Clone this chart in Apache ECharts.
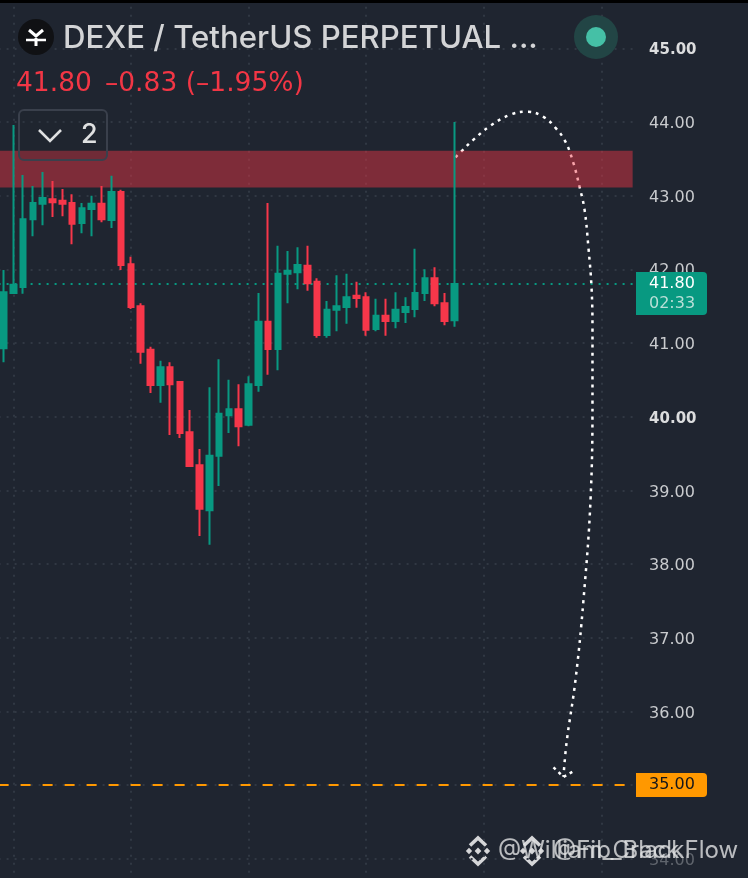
<!DOCTYPE html>
<html><head><meta charset="utf-8">
<style>html,body{margin:0;padding:0;background:#1f2530}#c{width:748px;height:878px}</style>
<script src="https://cdn.jsdelivr.net/npm/echarts@6/dist/echarts.min.js"></script>
</head><body><div id="c"></div>
<script>
// open, close, low, high for each bar
const opens  = [40.93,41.68,41.76,42.68,42.89,42.95,42.93,42.90,42.63,42.82,42.89,42.67,43.05,42.07,41.50,40.91,40.43,40.67,40.47,39.79,39.34,38.73,39.47,40.02,40.10,39.89,40.43,41.29,40.92,41.94,41.96,42.05,41.83,41.11,41.45,41.49,41.64,41.62,41.19,41.37,41.30,41.42,41.46,41.68,41.88,41.54,41.31];
const closes = [41.69,41.79,42.68,42.90,42.97,42.91,42.89,42.62,42.83,42.89,42.68,43.05,42.06,41.49,40.88,40.43,40.67,40.44,39.78,39.33,38.75,39.47,40.04,40.10,39.87,40.44,41.29,40.92,41.94,41.98,42.06,41.81,41.11,41.45,41.50,41.62,41.61,41.18,41.37,41.30,41.45,41.49,41.68,41.88,41.54,41.30,41.80];
const lows   = [40.74,41.67,41.67,42.45,42.60,42.71,42.72,42.34,42.49,42.45,42.64,42.56,41.99,41.46,40.72,40.32,40.19,39.75,39.71,39.33,38.38,38.26,39.06,39.78,39.60,39.87,40.34,40.57,40.63,41.54,41.73,41.71,41.07,41.07,41.16,41.26,41.48,41.10,41.16,41.10,41.20,41.27,41.35,41.57,41.50,41.24,41.22];
const highs  = [41.99,43.96,43.28,43.13,43.32,43.20,43.09,43.02,42.90,43.00,43.13,43.27,43.08,42.17,41.54,40.95,40.76,40.74,40.47,40.09,39.56,40.40,40.78,40.50,40.44,40.55,41.68,42.90,42.32,42.25,42.30,42.32,41.88,41.57,41.92,41.94,41.83,41.69,41.60,41.60,41.69,41.62,42.28,42.00,42.03,41.68,44.00];
const totalBars = 65;
const lastPrice = 41.80;
const targetPrice = 35.00;
const zoneBars = [-1, 64.2];
const zonePrices = [43.61, 43.11];
const arcBars   = [46.12,46.63,47.96,49.69,51.73,53.47,55.10,56.33,57.35,58.16,58.78,59.29,59.69,60.00,60.10,60.10,59.90,59.18,58.37,57.45,57.14];
const arcPrices = [43.52,43.59,43.76,43.95,44.10,44.14,44.07,43.92,43.73,43.44,43.12,42.81,42.29,41.76,41.20,40.23,38.87,37.51,36.43,35.57,35.11];
const headBars   = [56.12,57.14,58.06];
const headPrices = [35.24,35.11,35.18];
const boldTicks = ['45.00','40.00'];
const fadedTicks = ['34.00'];
const titleText = 'DEXE / TetherUS PERPETUAL ...';
const priceText = '41.80';
const changeText = '\u20130.83 (\u20131.95%)';
const countdownText = '02:33';
const foldCount = '2';
const watermarks = ['@William_Crack', '@Fib_BlackFlow'];

const BG='#1f2530', GRID='#313843', UP='#089981', DOWN='#f7374a', AXIS='#c9cbce', ORANGE='#ff9800';
const FONT='Inter, "Noto Sans", sans-serif';
const AXFONT='"DejaVu Sans", sans-serif';
const cats = Array.from({length:totalBars},(_,i)=>String(i));
const chart = echarts.init(document.getElementById('c'),null,{renderer:'canvas'});

function tag(params, api, fill, lines){
  const y = api.coord([0, api.value(0)])[1];
  const g = {type:'group',children:[]};
  const h = lines.length>1 ? 43 : 24;
  const top = y-12;
  g.children.push({type:'rect',shape:{x:636,y:top,width:71,height:h,r:[0,4,4,0]},style:{fill}});
  lines.forEach((l,i)=>g.children.push({type:'text',style:{x:649,y:top+12+i*20,text:l.t,fill:l.c,font:'16px '+AXFONT,textVerticalAlign:'middle',textAlign:'left'}}));
  return g;
}
function diamond(cx,cy){
  const d=(x,y,r)=>({type:'polygon',shape:{points:[[x,y-r],[x+r,y],[x,y+r],[x-r,y]]},style:{fill:'#d5d6d8'}});
  return [d(cx,cy,3.4),d(cx-9,cy,3.2),d(cx+9,cy,3.2),
    {type:'polyline',shape:{points:[[cx-8,cy-5.5],[cx,cy-13],[cx+8,cy-5.5]]},style:{stroke:'#d5d6d8',fill:null,lineWidth:3.6}},
    {type:'polyline',shape:{points:[[cx-8,cy+5.5],[cx,cy+13],[cx+8,cy+5.5]]},style:{stroke:'#d5d6d8',fill:null,lineWidth:3.6}}];
}

chart.setOption({
  backgroundColor:BG, animation:false,
  grid:{left:-1.4,top:-25.34,width:637,height:957.71,containLabel:false,outerBoundsMode:'none'},
  xAxis:[
    {type:'category',data:cats,boundaryGap:true,axisLine:{show:false},axisTick:{show:false},axisLabel:{show:false},
     splitLine:{show:true,alignWithLabel:true,interval:(i)=>(i-1)%12===0,lineStyle:{color:GRID,width:2,type:[2,6]}}},
    {type:'value',min:-0.5,max:64.5,show:false,splitLine:{show:false}}
  ],
  yAxis:{type:'value',min:33,max:46,interval:1,position:'right',axisLine:{show:false},axisTick:{show:false},
    splitLine:{show:true,lineStyle:{color:GRID,width:2,type:[2,6]}},
    axisLabel:{margin:13.5,align:'left',padding:[4,0,0,0],formatter:(v)=>{const t=v.toFixed(2);return boldTicks.includes(t)?`{b|${t}}`:fadedTicks.includes(t)?`{f|${t}}`:`{n|${t}}`;},
      rich:{n:{color:AXIS,fontSize:16,fontFamily:AXFONT},b:{color:'#dcddde',fontSize:15,fontWeight:'bold',fontFamily:AXFONT},f:{color:'#5f646c',fontSize:16,fontFamily:AXFONT}}}},
  series:[
    {type:'line',name:'arc',xAxisIndex:1,z:1,symbol:'none',smooth:0.4,data:arcBars.map((b,i)=>[b,arcPrices[i]]),lineStyle:{color:'#fff',width:2.5,type:[3,5]},clip:false},
    {type:'line',name:'head',xAxisIndex:1,z:1,symbol:'none',data:headBars.map((b,i)=>[b,headPrices[i]]),lineStyle:{color:'#fff',width:2.5,type:[3,4]},clip:false},
    {type:'custom',name:'zone',xAxisIndex:1,z:1.5,data:[[zoneBars[0],zoneBars[1],zonePrices[0],zonePrices[1]]],
     encode:{x:[0,1],y:[2,3]},
     renderItem:(p,api)=>{const a=api.coord([api.value(0),api.value(2)]),b=api.coord([api.value(1),api.value(3)]);
       return {type:'rect',shape:{x:a[0],y:a[1],width:b[0]-a[0],height:b[1]-a[1]},style:{fill:'rgba(242,54,69,0.45)'}};}},
    {type:'candlestick',name:'price',z:2,barWidth:6,data:opens.map((o,i)=>[o,closes[i],lows[i],highs[i]]),
     itemStyle:{color:UP,color0:DOWN,borderColor:UP,borderColor0:DOWN,borderWidth:2},
     markLine:{symbol:'none',silent:true,label:{show:false},z:1,
       data:[{yAxis:lastPrice,lineStyle:{color:UP,width:2,type:[2,6]}},{yAxis:targetPrice,lineStyle:{color:ORANGE,width:2,type:[10,12]}}]}},
    {type:'custom',name:'lastTag',z:5,clip:false,data:[[lastPrice]],encode:{y:0},coordinateSystem:'cartesian2d',
     renderItem:(p,api)=>tag(p,api,UP,[{t:priceText,c:'#fff'},{t:countdownText,c:'#b9dfd7'}])},
    {type:'custom',name:'targetTag',z:5,clip:false,data:[[targetPrice]],encode:{y:0},coordinateSystem:'cartesian2d',
     renderItem:(p,api)=>tag(p,api,ORANGE,[{t:targetPrice.toFixed(2),c:'#14161a'}])}
  ],
  graphic:[
    {type:'rect',shape:{x:0,y:0,width:748,height:3},style:{fill:'#000'},z:20},
    {type:'circle',shape:{cx:36,cy:37,r:18},style:{fill:'#101114'},z:20},
    {type:'polyline',shape:{points:[[29,30],[36,36],[43,30]]},style:{stroke:'#fff',fill:null,lineWidth:3},z:21},
    {type:'polyline',shape:{points:[[26,40],[46,40]]},style:{stroke:'#fff',fill:null,lineWidth:2.5},z:21},
    {type:'polyline',shape:{points:[[36,38],[36,46]]},style:{stroke:'#fff',fill:null,lineWidth:3},z:21},
    {type:'text',style:{x:63,y:39,text:titleText,fill:'#d3d4d6',font:'500 31.2px '+FONT,textVerticalAlign:'middle'},z:20},
    {type:'text',style:{x:16,y:84,text:priceText,fill:'#f23645',font:'26.5px '+AXFONT,textVerticalAlign:'middle'},z:20},
    {type:'text',style:{x:105,y:84,text:changeText,fill:'#f23645',font:'26.5px '+AXFONT,textVerticalAlign:'middle'},z:20},
    {type:'rect',shape:{x:19,y:110,width:88,height:50,r:5},style:{fill:'rgba(31,37,48,0.15)',stroke:'#3a404c',lineWidth:2},z:20},
    {type:'polyline',shape:{points:[[39,130],[50,141],[61,130]]},style:{stroke:'#dfe0e1',fill:null,lineWidth:2.6},z:21},
    {type:'text',style:{x:81,y:135,text:foldCount,fill:'#dfe0e1',font:'500 27px '+FONT,textVerticalAlign:'middle'},z:21},
    {type:'circle',shape:{cx:596,cy:37,r:22},style:{fill:'#224545'},z:20},
    {type:'circle',shape:{cx:596,cy:37,r:10},style:{fill:'#45c0a6'},z:21},
    {type:'group',z:22,silent:true,children:diamond(478,851).concat(diamond(532,851))},
    {type:'text',style:{x:498,y:851,text:watermarks[0],fill:'rgba(225,226,228,0.8)',font:'24px '+FONT,textVerticalAlign:'middle'},z:22},
    {type:'text',style:{x:553,y:851,text:watermarks[1],fill:'rgba(225,226,228,0.8)',font:'24px '+FONT,textVerticalAlign:'middle'},z:22}
  ]
});
</script></body></html>
